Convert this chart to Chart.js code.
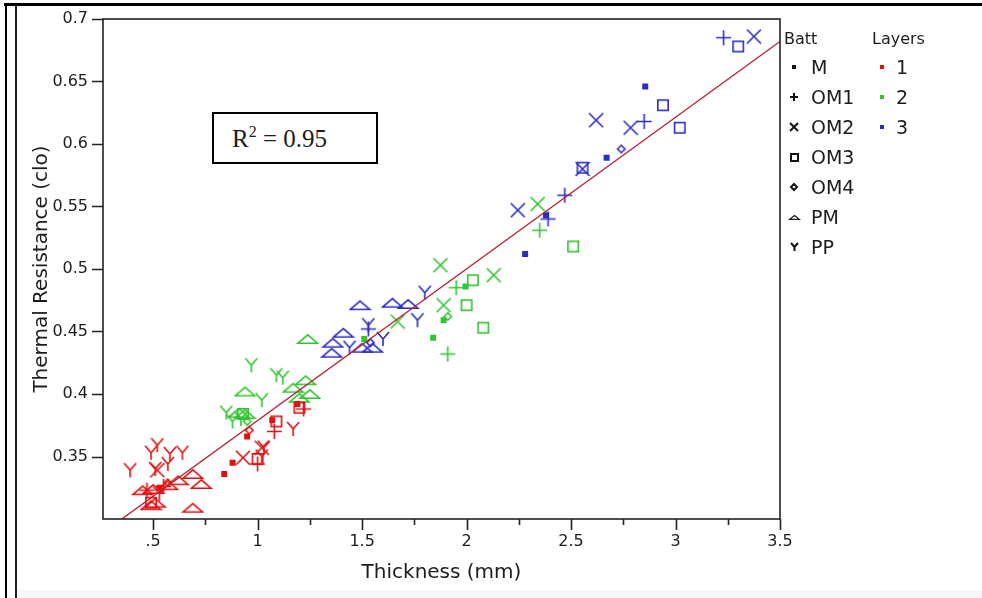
<!DOCTYPE html>
<html>
<head>
<meta charset="utf-8">
<script src="https://cdn.jsdelivr.net/npm/chart.js"></script>
<style>
  html, body { margin: 0; padding: 0; background: #fff; }
  #wrap { position: relative; width: 982px; height: 598px; overflow: hidden; font-family: "DejaVu Sans", sans-serif; color: #1c1c1c; }
  #chart { position: absolute; left: 0; top: 0; }
  .line { position: absolute; background: #000; }
  #r2 { position: absolute; left: 212px; top: 112px; width: 162px; height: 48px; border: 2px solid #000; background: #fff;
        font-family: "Liberation Serif", "Times New Roman", serif; font-size: 25px; line-height: 25px; }
  #r2 span.t { position: absolute; left: 18px; top: 12px; white-space: nowrap; }
  #r2 sup { font-size: 16px; vertical-align: 0; position: relative; top: -10px; }
  .lg { position: absolute; white-space: nowrap; line-height: 1; }
  .lg.head { font-size: 16px; line-height: 16px; }
  .lg.item { font-size: 19px; line-height: 19px; }
  .sym { position: absolute; }
</style>
</head>
<body>
<div id="wrap">
  <canvas id="chart" width="982" height="598"></canvas>
  <div class="line" style="left:4px;top:3px;width:978px;height:3px;"></div>
  <div class="line" style="left:5px;top:3px;width:2px;height:595px;"></div>
  <div class="line" style="left:15px;top:6px;width:1.5px;height:592px;background:#222;"></div>
  <div style="position:absolute;left:17px;top:590px;width:965px;height:8px;background:#f7f7f7;"></div>
  <div id="r2"><span class="t">R<sup>2</sup> = 0.95</span></div>
  <div id="legend"></div>
</div>
<script>
// axis ticks
const xTicks = [0.5, 1, 1.5, 2, 2.5, 3, 3.5];
const xTickLabels = ['.5', '1', '1.5', '2', '2.5', '3', '3.5'];
const xMinorTicks = [0.75, 1.25, 1.75, 2.25, 2.75, 3.25];
const yTicks = [0.35, 0.4, 0.45, 0.5, 0.55, 0.6, 0.65, 0.7];
const yTickLabels = ['0.35', '0.4', '0.45', '0.5', '0.55', '0.6', '0.65', '0.7'];

// fitted line
const fitX = [0.35, 3.5];
const fitY = [0.300, 0.682];

const battTypes = ['M', 'OM1', 'OM2', 'OM3', 'OM4', 'PM', 'PP'];
const layers = ['1', '2', '3'];

// layer 1 (red): [thickness mm, thermal resistance clo]
const L1_M   = [[0.84,0.336],[0.88,0.345],[0.95,0.366],[1.07,0.379],[1.19,0.392],[0.53,0.325]];
const L1_OM1 = [[1.00,0.344],[1.08,0.370],[1.22,0.388],[0.55,0.326],[0.47,0.323]];
const L1_OM2 = [[0.93,0.349],[0.52,0.339],[1.02,0.357]];
const L1_OM3 = [[1.00,0.348],[1.09,0.378],[1.20,0.389],[0.49,0.313]];
const L1_OM4 = [[0.96,0.371],[0.57,0.329]];
const L1_PM  = [[0.45,0.323],[0.50,0.324],[0.57,0.327],[0.69,0.336],[0.73,0.328],[0.49,0.311],[0.51,0.313],[0.69,0.309],[0.62,0.331]];
const L1_PP  = [[0.39,0.339],[0.49,0.353],[0.52,0.359],[0.58,0.352],[0.64,0.353],[0.57,0.344],[0.51,0.340],[0.53,0.320],[1.03,0.357],[1.17,0.372],[1.02,0.350]];

// layer 2 (green)
const L2_M   = [[1.995,0.486],[1.89,0.459],[1.84,0.445],[1.51,0.444]];
const L2_OM1 = [[1.95,0.485],[1.91,0.432],[2.35,0.531]];
const L2_OM2 = [[1.875,0.503],[1.89,0.471],[2.13,0.495],[2.34,0.552],[1.67,0.458]];
const L2_OM3 = [[2.03,0.491],[2.00,0.471],[2.08,0.453],[2.51,0.518],[0.93,0.384]];
const L2_OM4 = [[1.91,0.462],[0.95,0.378]];
const L2_PM  = [[0.94,0.402],[0.91,0.385],[0.94,0.384],[1.24,0.444],[1.23,0.411],[1.17,0.405],[1.25,0.400],[1.20,0.397]];
const L2_PP  = [[0.97,0.423],[1.09,0.415],[1.12,0.413],[1.02,0.395],[0.85,0.385],[0.88,0.378],[0.92,0.380]];

// layer 3 (blue)
const L3_M   = [[2.38,0.543],[2.28,0.512],[2.67,0.589],[2.855,0.646]];
const L3_OM1 = [[2.39,0.540],[2.47,0.559],[2.85,0.618],[3.23,0.685],[1.53,0.452]];
const L3_OM2 = [[2.245,0.547],[2.62,0.619],[2.785,0.613],[3.375,0.686],[2.555,0.580]];
const L3_OM3 = [[2.555,0.581],[2.94,0.631],[3.02,0.613],[3.30,0.678]];
const L3_OM4 = [[2.74,0.596],[1.54,0.441]];
const L3_PM  = [[1.49,0.471],[1.645,0.473],[1.72,0.472],[1.41,0.449],[1.36,0.441],[1.355,0.433],[1.50,0.437],[1.55,0.437]];
const L3_PP  = [[1.80,0.481],[1.53,0.455],[1.765,0.459],[1.60,0.444],[1.44,0.437]];

const layerColors = { '1': '#e01010', '2': '#30c430', '3': '#2c2cc4' };
const seriesData = {
  '1': { M: L1_M, OM1: L1_OM1, OM2: L1_OM2, OM3: L1_OM3, OM4: L1_OM4, PM: L1_PM, PP: L1_PP },
  '2': { M: L2_M, OM1: L2_OM1, OM2: L2_OM2, OM3: L2_OM3, OM4: L2_OM4, PM: L2_PM, PP: L2_PP },
  '3': { M: L3_M, OM1: L3_OM1, OM2: L3_OM2, OM3: L3_OM3, OM4: L3_OM4, PM: L3_PM, PP: L3_PP }
};

// marker glyphs drawn on small canvases, used as pointStyle
const markerDims = { M: [6, 6], OM1: [15, 15], OM2: [14, 14], OM3: [12, 12], OM4: [9, 9], PM: [21, 10], PP: [12, 14] };

function makeMarker(kind, color, scale, lw) {
  const d = markerDims[kind];
  const W = Math.round(d[0] * scale), H = Math.round(d[1] * scale);
  const c = document.createElement('canvas');
  c.width = W + 2; c.height = H + 2;
  const g = c.getContext('2d');
  g.strokeStyle = color; g.fillStyle = color; g.lineWidth = lw;
  const x0 = 1, y0 = 1;
  g.beginPath();
  if (kind === 'M') {
    g.fillRect(x0, y0, W, H);
  } else if (kind === 'OM1') {
    g.moveTo(x0 + W / 2, y0); g.lineTo(x0 + W / 2, y0 + H);
    g.moveTo(x0, y0 + H / 2); g.lineTo(x0 + W, y0 + H / 2);
    g.stroke();
  } else if (kind === 'OM2') {
    g.moveTo(x0, y0); g.lineTo(x0 + W, y0 + H);
    g.moveTo(x0 + W, y0); g.lineTo(x0, y0 + H);
    g.stroke();
  } else if (kind === 'OM3') {
    g.strokeRect(x0 + lw / 2, y0 + lw / 2, W - lw, H - lw);
  } else if (kind === 'OM4') {
    g.moveTo(x0 + W / 2, y0 + lw / 2); g.lineTo(x0 + W - lw / 2, y0 + H / 2);
    g.lineTo(x0 + W / 2, y0 + H - lw / 2); g.lineTo(x0 + lw / 2, y0 + H / 2);
    g.closePath(); g.stroke();
  } else if (kind === 'PM') {
    g.moveTo(x0 + lw / 2, y0 + H - lw / 2); g.lineTo(x0 + W / 2, y0 + lw / 2);
    g.lineTo(x0 + W - lw / 2, y0 + H - lw / 2); g.closePath(); g.stroke();
  } else if (kind === 'PP') {
    const my = y0 + H * 0.5;
    g.moveTo(x0, y0); g.lineTo(x0 + W / 2, my); g.lineTo(x0 + W, y0);
    g.moveTo(x0 + W / 2, my); g.lineTo(x0 + W / 2, y0 + H);
    g.stroke();
  }
  return c;
}

const datasets = [{
  type: 'line',
  data: fitX.map((x, i) => ({ x, y: fitY[i] })),
  borderColor: '#b82232',
  borderWidth: 1.4,
  pointRadius: 0,
  fill: false
}];
layers.forEach(l => {
  battTypes.forEach(b => {
    datasets.push({
      label: b + ' / ' + l,
      data: seriesData[l][b].map(p => ({ x: p[0], y: p[1] })),
      pointStyle: makeMarker(b, layerColors[l], 1, 1.6),
      pointRadius: 8,
      pointHoverRadius: 8
    });
  });
});

const axisFont = { family: '"DejaVu Sans", sans-serif', size: 16 };
const titleFont = { family: '"DejaVu Sans", sans-serif', size: 20 };

const framePlugin = {
  id: 'frame',
  afterDraw(chart) {
    const { ctx, chartArea: a, scales: { x, y } } = chart;
    ctx.save();
    ctx.strokeStyle = '#222';
    ctx.lineWidth = 1.6;
    ctx.strokeRect(a.left, a.top, a.right - a.left, a.bottom - a.top);
    ctx.beginPath();
    yTicks.forEach(v => {
      const p = Math.round(y.getPixelForValue(v)) + 0.5;
      ctx.moveTo(a.left - 11, p); ctx.lineTo(a.left, p);
    });
    xTicks.forEach(v => {
      const p = Math.round(x.getPixelForValue(v)) + 0.5;
      ctx.moveTo(p, a.bottom); ctx.lineTo(p, a.bottom + 11);
    });
    xMinorTicks.forEach(v => {
      const p = Math.round(x.getPixelForValue(v)) + 0.5;
      ctx.moveTo(p, a.bottom); ctx.lineTo(p, a.bottom + 6);
    });
    ctx.stroke();
    ctx.restore();
  }
};

new Chart(document.getElementById('chart').getContext('2d'), {
  type: 'scatter',
  data: { datasets },
  options: {
    responsive: false,
    animation: false,
    events: [],
    layout: { padding: { left: 0, top: 19, right: 202, bottom: 0 } },
    plugins: { legend: { display: false }, tooltip: { enabled: false } },
    scales: {
      x: {
        type: 'linear', min: 0.26, max: 3.5,
        afterBuildTicks: s => { s.ticks = xTicks.map(v => ({ value: v })); },
        afterFit: s => { s.height = 79; },
        grid: { display: false, drawTicks: true, tickLength: 11 },
        border: { display: false },
        ticks: { autoSkip: false, maxRotation: 0, padding: 2, color: '#1c1c1c', font: axisFont,
                 callback: (v, i) => xTickLabels[i] },
        title: { display: true, text: 'Thickness (mm)', color: '#1c1c1c', font: titleFont, padding: { top: 4, bottom: 13 } }
      },
      y: {
        type: 'linear', min: 0.3, max: 0.7,
        afterBuildTicks: s => { s.ticks = yTicks.map(v => ({ value: v })); },
        afterFit: s => { s.width = 103; },
        grid: { display: false, drawTicks: true, tickLength: 11 },
        border: { display: false },
        ticks: { autoSkip: false, padding: 4, color: '#1c1c1c', font: axisFont,
                 callback: (v, i) => yTickLabels[i] },
        title: { display: true, text: 'Thermal Resistance (clo)', color: '#1c1c1c', font: titleFont, padding: { top: 30, bottom: 0 } }
      }
    }
  },
  plugins: [framePlugin]
});

// legend (Batt marker types and Layers colours)
const legend = document.getElementById('legend');
function addText(cls, text, left, top) {
  const el = document.createElement('div');
  el.className = 'lg ' + cls;
  el.textContent = text;
  el.style.left = left + 'px';
  el.style.top = top + 'px';
  legend.appendChild(el);
}
function addSym(cnv, cx, cy) {
  cnv.className = 'sym';
  cnv.style.left = Math.round(cx - cnv.width / 2) + 'px';
  cnv.style.top = Math.round(cy - cnv.height / 2) + 'px';
  legend.appendChild(cnv);
}
addText('head', 'Batt', 784, 31);
addText('head', 'Layers', 872, 31);
const legendScale = { M: 0.7, OM1: 0.55, OM2: 0.55, OM3: 0.75, OM4: 0.85, PM: 0.5, PP: 0.6 };
const legendWidth = { M: 1, OM1: 2, OM2: 2, OM3: 2, OM4: 2, PM: 1.2, PP: 2 };
battTypes.forEach((b, i) => {
  const cy = 67 + 30 * i;
  addSym(makeMarker(b, '#111', legendScale[b], legendWidth[b]), 794, cy);
  addText('item', b, 811, cy - 9);
});
layers.forEach((l, i) => {
  const cy = 67 + 30 * i;
  addSym(makeMarker('M', layerColors[l], 0.7, 1), 882, cy);
  addText('item', l, 896, cy - 9);
});
</script>
</body>
</html>
